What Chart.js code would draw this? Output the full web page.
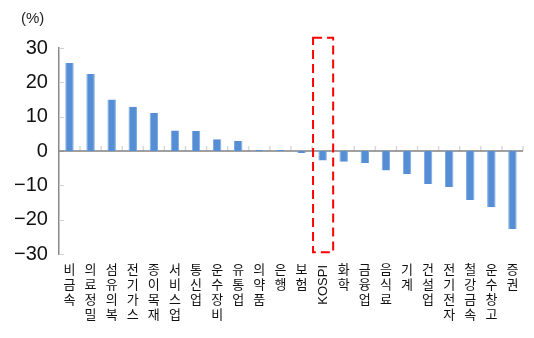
<!DOCTYPE html>
<html>
<head>
<meta charset="utf-8">
<script src="https://cdn.jsdelivr.net/npm/chart.js@4.4.0/dist/chart.umd.min.js"></script>
<style>
  html, body { margin: 0; padding: 0; background: #fff; }
  #wrap { width: 534px; height: 338px; }
</style>
</head>
<body>
<div id="wrap"><canvas id="myChart" width="534" height="338"></canvas></div>
<script>
const categories = ["비금속", "의료정밀", "섬유의복", "전기가스", "종이목재", "서비스업", "통신업", "운수장비", "유통업", "의약품", "은행", "보험", "KOSPI", "화학", "금융업", "음식료", "기계", "건설업", "전기전자", "철강금속", "운수창고", "증권"];
const values = [25.6, 22.4, 15.0, 12.9, 11.1, 6.0, 5.8, 3.4, 2.9, 0.3, 0.3, -0.6, -2.8, -3.1, -3.5, -5.7, -6.7, -9.6, -10.5, -14.3, -16.4, -22.7];
const yMin = -30;
const yMax = 30;
const yStep = 10;
const unitLabel = "(%)";
const highlight = "KOSPI";

// zero line, tick marks, vertical category labels and the dashed highlight box
const extras = {
  id: "extras",
  beforeDatasetsDraw(chart) {
    const ctx = chart.ctx;
    const x = chart.scales.x;
    const y = chart.scales.y;
    const area = chart.chartArea;
    const y0 = y.getPixelForValue(0);
    const half = (x.getPixelForValue(1) - x.getPixelForValue(0)) / 2;
    ctx.save();
    // inside ticks on the value axis
    ctx.strokeStyle = "#d0d0d0";
    ctx.lineWidth = 1;
    for (let v = yMin; v <= yMax; v += yStep) {
      const py = Math.round(y.getPixelForValue(v)) + 0.5;
      ctx.beginPath();
      ctx.moveTo(area.left, py);
      ctx.lineTo(area.left + 5, py);
      ctx.stroke();
    }
    // category separators above the zero line
    ctx.strokeStyle = "#d9d9d9";
    ctx.lineWidth = 1.5;
    for (let i = 0; i < categories.length; i++) {
      const px = x.getPixelForValue(i) + half;
      ctx.beginPath();
      ctx.moveTo(px, y0);
      ctx.lineTo(px, y0 - 5);
      ctx.stroke();
    }
    ctx.strokeStyle = "#808080";
    ctx.lineWidth = 1.5;
    ctx.beginPath();
    ctx.moveTo(area.left, y0);
    ctx.lineTo(area.right, y0);
    ctx.stroke();
    ctx.restore();
  },
  afterDraw(chart) {
    const ctx = chart.ctx;
    const x = chart.scales.x;
    const y = chart.scales.y;
    const area = chart.chartArea;
    const half = (x.getPixelForValue(1) - x.getPixelForValue(0)) / 2;
    const top = area.bottom + 11;
    ctx.save();
    ctx.fillStyle = "#111";
    categories.forEach((name, i) => {
      const px = x.getPixelForValue(i);
      if (/^[A-Za-z]+$/.test(name)) {
        ctx.save();
        ctx.font = "13px 'Liberation Sans', Arial, sans-serif";
        ctx.translate(px + 1, top);
        ctx.rotate(-Math.PI / 2);
        ctx.textAlign = "right";
        ctx.textBaseline = "middle";
        ctx.fillText(name, 0, 0);
        ctx.restore();
      } else {
        ctx.font = "13px 'Noto Sans CJK KR', sans-serif";
        ctx.textAlign = "center";
        ctx.textBaseline = "top";
        [...name].forEach((ch, j) => ctx.fillText(ch, px, top - 2 + j * 15));
      }
    });
    // unit label
    ctx.font = "15px 'Liberation Sans', Arial, sans-serif";
    ctx.textAlign = "left";
    ctx.textBaseline = "middle";
    ctx.fillStyle = "#222";
    ctx.fillText(unitLabel, 21, 19);
    // dashed box around the index bar
    const k = categories.indexOf(highlight);
    const cx = x.getPixelForValue(k);
    const by = y.getPixelForValue(33);
    const bb = y.getPixelForValue(-29.5);
    ctx.strokeStyle = "#ff0000";
    ctx.lineWidth = 2;
    ctx.setLineDash([9, 5]);
    ctx.strokeRect(cx - half + 1, by, half * 2 - 1, bb - by);
    ctx.restore();
  }
};

new Chart("myChart", {
  type: "bar",
  data: {
    labels: categories,
    datasets: [
      {
        data: values,
        backgroundColor: "#558ed5",
        borderColor: "#7aa8e0",
        borderWidth: { left: 1, right: 1, top: 0, bottom: 0 },
        barPercentage: 0.8,
        categoryPercentage: 0.5,
      },
    ],
  },
  options: {
    responsive: false,
    animation: false,
    layout: { padding: { top: 48, bottom: 84, left: 11, right: 11 } },
    plugins: {
      legend: { display: false },
      tooltip: { enabled: false },
    },
    scales: {
      x: {
        display: false,
      },
      y: {
        min: yMin,
        max: yMax,
        grid: { display: false },
        border: { display: true, color: "#888", width: 1.5 },
        ticks: {
          stepSize: yStep,
          padding: 3,
          color: "#111",
          font: { family: "'Liberation Sans', Arial, sans-serif", size: 20 },
          callback: (v) => (v < 0 ? "\u2212" + Math.abs(v) : String(v)),
        },
      },
    },
  },
  plugins: [extras],
});
</script>
</body>
</html>
